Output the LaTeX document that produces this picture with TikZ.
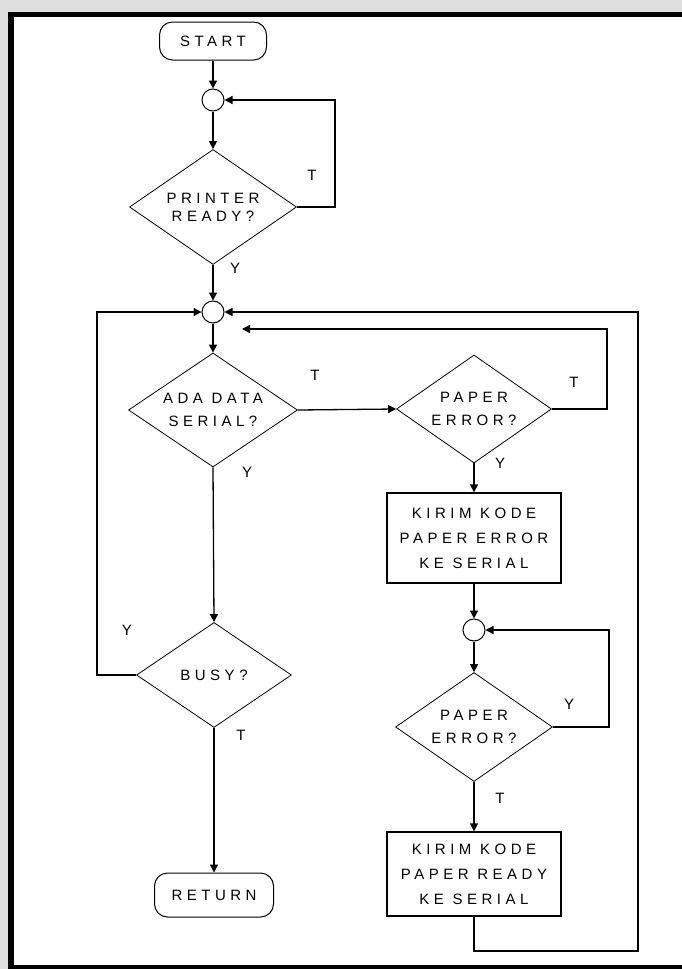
\documentclass[tikz,border=0pt]{standalone}
\usepackage{fontspec}
\setmainfont{Liberation Sans}
\newfontfamily\spaced[LetterSpace=30]{Liberation Sans}
\usetikzlibrary{shapes.geometric,arrows.meta}
\begin{document}
\begin{tikzpicture}[x=1pt,y=-1pt,
  conn/.style={line width=1.3pt},
  arr/.style={line width=1.3pt,-{Triangle[length=8pt,width=8pt]}},
  txt/.style={font=\spaced\fontsize{15}{#1}\selectfont},
  dia/.style={diamond,draw,line width=0.8pt,inner sep=0pt,aspect=1.45,align=center},
  procbox/.style={rectangle,draw,line width=1.3pt,align=center,minimum width=174pt},
  term/.style={rectangle,rounded corners=13pt,draw,line width=1pt,txt=15},
  junc/.style={circle,draw,line width=1pt,minimum size=22pt,inner sep=0pt},
  lbl/.style={inner sep=0pt,font=\fontsize{15}{15}\selectfont}]
\useasboundingbox (0,0) rectangle (682,969);
\fill[gray!25] (0,0) rectangle (682,969);
\fill[white] (8,12) rectangle (682,969);
\draw[line width=5pt] (8,14.5) -- (682,14.5);
\draw[line width=6pt] (11,12) -- (11,969);
\draw[line width=5pt] (8,967) -- (682,967);

% nodes
\node[term,minimum width=107pt,minimum height=38pt] (start) at (213,41) {START};
\node[junc] (c1) at (213,100) {};
\node[dia,txt=18,minimum width=167pt,minimum height=115pt] (d1) at (213,207) {PRINTER\\READY?};
\node[junc] (c2) at (213,312) {};
\node[dia,txt=23,minimum width=169pt,minimum height=114pt] (d2) at (213,410) {ADA DATA\\SERIAL?};
\node[dia,txt=23,minimum width=155pt,minimum height=108pt] (d3) at (474,409) {PAPER\\ERROR?};
\node[procbox,txt=25,minimum height=90pt] (b1) at (474,538) {KIRIM KODE\\PAPER ERROR\\KE SERIAL};
\node[junc] (c3) at (474,630) {};
\node[dia,txt=23,minimum width=157pt,minimum height=109pt] (d4) at (474,727) {PAPER\\ERROR?};
\node[procbox,txt=25,minimum height=84pt] (b2) at (474,874) {KIRIM KODE\\PAPER READY\\KE SERIAL};
\node[dia,txt=18,minimum width=155pt,minimum height=105pt] (d5) at (214,675) {BUSY?};
\node[term,minimum width=119pt,minimum height=44pt] (ret) at (214,895) {RETURN};

\coordinate (a1) at (242,329);
\coordinate (rt) at (638,951);

% labels
\node[lbl] (l1) at (312,175) {T};
\node[lbl] (l2) at (235,268) {Y};
\node[lbl] (l3) at (315,375) {T};
\node[lbl] (l4) at (247,472) {Y};
\node[lbl] (l5) at (574,382) {T};
\node[lbl] (l6) at (500,463) {Y};
\node[lbl] (l7) at (569,704) {Y};
\node[lbl] (l8) at (500,798) {T};
\node[lbl] (l9) at (127,630) {Y};
\node[lbl] (l10) at (241,735) {T};

% connectors
\draw[arr] (start) -- (c1);
\draw[arr] (c1) -- (d1);
\draw[arr] (d1.east) -- ++(38,0) |- (c1.east);
\draw[arr] (d1.south) -- (c2.north);
\draw[arr] (c2) -- (d2);
\draw[arr] (d2.east) -- (d3.west);
\draw[arr] (d3.east) -- ++(55,0) |- (a1);
\draw[arr] (d3.south) -- (b1.north);
\draw[arr] (b1.south) -- (c3.north);
\draw[arr] (c3) -- (d4);
\draw[arr] (d4.east) -- ++(56,0) |- (c3.east);
\draw[arr] (d4.south) -- (b2.north);
\draw[arr] (b2.south) |- (rt) |- (c2.east);
\draw[arr] (d2.south) -- (d5.north);
\draw[arr] (d5.west) -- ++(-39,0) |- (c2.west);
\draw[arr] (d5.south) -- (ret.north);
\end{tikzpicture}
\end{document}
